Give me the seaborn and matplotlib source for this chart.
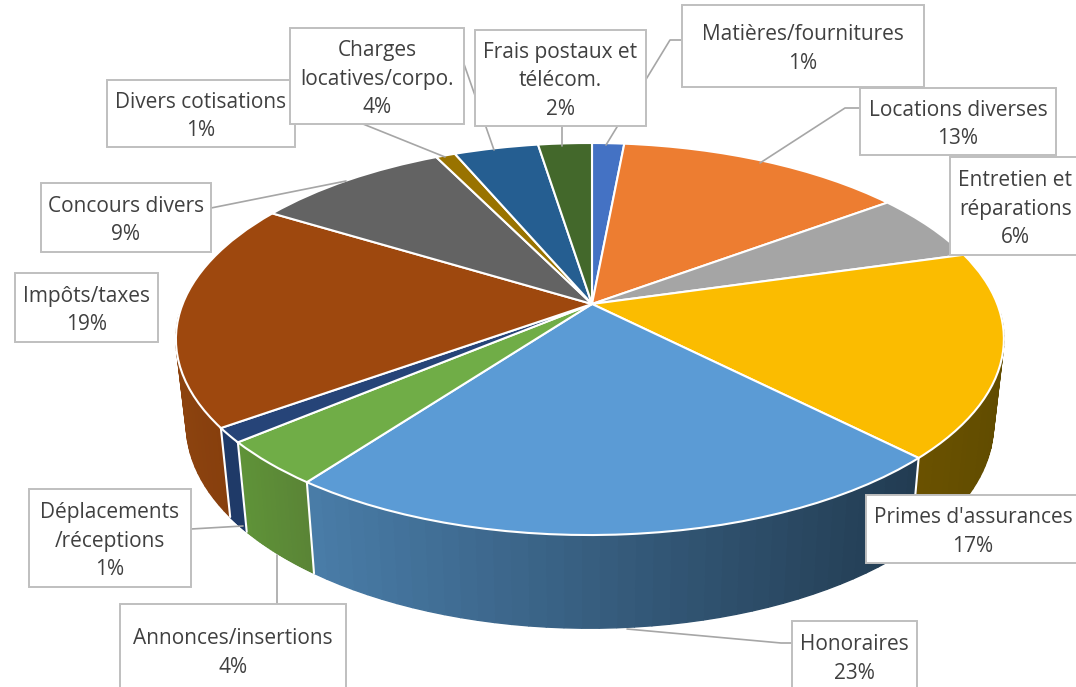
import numpy as np
import pandas as pd
import matplotlib
matplotlib.use("Agg")
import matplotlib.pyplot as plt
import matplotlib.transforms as mtransforms
from matplotlib.colors import to_rgb
from matplotlib.patches import Rectangle
import seaborn as sns

categories = ["Matières/fournitures", "Locations diverses", "Entretien et\nréparations",
              "Primes d'assurances", "Honoraires", "Annonces/insertions",
              "Déplacements\n/réceptions", "Impôts/taxes", "Concours divers",
              "Divers cotisations", "Charges\nlocatives/corpo.", "Frais postaux et\ntélécom."]
values = [1.49, 13.4, 5.7, 17.0, 22.6, 3.7, 1.2, 18.6, 9.0, 0.9, 3.91, 2.49]

top_colors = ["#4472C4", "#ED7D31", "#A5A5A5", "#FBBC00", "#5B9BD5", "#70AD47",
              "#264478", "#9E480E", "#636363", "#997300", "#255E91", "#43682B"]
wall_left = ["#3A62A8", "#C96A2A", "#8C8C8C", "#6B5200", "#4A7DA9", "#5F9338",
             "#1F3A68", "#8C430F", "#555555", "#826200", "#204F7B", "#395825"]
wall_right = ["#3A62A8", "#C96A2A", "#8C8C8C", "#614C00", "#223C52", "#5A8436",
              "#1F3A68", "#873F0D", "#555555", "#826200", "#204F7B", "#395825"]

# boxes: left, top, right, bottom (pixels)
boxes = [(682, 5, 924, 87), (860, 88, 1056, 155), (950, 157, 1081, 255),
         (866, 495, 1080, 563), (792, 621, 917, 691), (120, 604, 346, 696),
         (29, 489, 191, 587), (15, 273, 158, 342), (41, 183, 211, 252),
         (107, 80, 295, 147), (290, 28, 464, 124), (475, 30, 646, 126)]
leaders = [[(682, 40), (670, 40), (606, 145)], [(860, 108), (845, 108), (760, 163)],
           [(792, 643), (781, 643), (627, 629)], [(277, 604), (277, 555)],
           [(191, 529), (243, 526)], [(211, 208), (346, 181)],
           [(363, 124), (445, 157)], [(464, 64), (494, 150)], [(562, 126), (562, 146)]]

# disc geometry in pixels
cx, cy = 592, 304
A, B, k, m = 407.3, 189.75, 0.1786, 0.005
depth, sx, sy = 84, 0.975, 1.04


def project(u, v):
    w = 1 + k * v + m * u
    return cx + A * u / w, cy - B * v / w


class Perspective(mtransforms.Transform):
    input_dims = 2
    output_dims = 2

    def transform_non_affine(self, values):
        x, y = project(values[:, 0], values[:, 1])
        return np.column_stack([x, y])


def lower(x, y):
    return cx + (x - cx) * sx, cy + (y - cy) * sy + depth


sns.set_theme(style="white")
plt.rcParams["font.family"] = ["Open Sans", "DejaVu Sans"]

df = pd.DataFrame({"category": categories, "value": values})
df["end"] = df["value"].cumsum() / df["value"].sum() * 2 * np.pi
df["start"] = df["end"].shift(fill_value=0)

fig, ax = plt.subplots(figsize=(10.76, 6.87), dpi=100)
fig.subplots_adjust(0, 0, 1, 1)

# side wall, one thin strip at a time for the shading
for i, row in df.iterrows():
    t = np.linspace(row["start"], row["end"], 40)
    t = t[np.cos(t) < -0.05]  # back part is hidden anyway
    if len(t) < 2:
        continue
    xt, yt = project(np.sin(t), np.cos(t))
    xb, yb = lower(xt, yt)
    c1, c2 = np.array(to_rgb(wall_left[i])), np.array(to_rgb(wall_right[i]))
    span = max(xt.max() - xt.min(), 1)
    for j in range(len(t) - 1):
        f = (xt[j] - xt.min()) / span
        col = c1 + (c2 - c1) * f
        ax.fill([xt[j], xt[j + 1], xb[j + 1], xb[j]], [yt[j], yt[j + 1], yb[j + 1], yb[j]],
                facecolor=col, edgecolor=col, lw=1.0, zorder=1)

for a in df["end"]:
    if np.cos(a) < -0.05:
        xt, yt = project(np.sin(a), np.cos(a))
        xb, yb = lower(xt, yt)
        ax.plot([xt, xb], [yt, yb], color="white", lw=1.5, zorder=1.5)

ax.pie(df["value"], colors=sns.color_palette(top_colors), startangle=90, counterclock=False,
       wedgeprops={"transform": Perspective() + ax.transData, "edgecolor": "white",
                   "linewidth": 1.5, "zorder": 2})

for line in leaders:
    xs, ys = zip(*line)
    ax.plot(xs, ys, color="#A6A6A6", lw=1.2, zorder=3)

for name, val, (x0, y0, x1, y1) in zip(categories, values, boxes):
    ax.add_patch(Rectangle((x0, y0), x1 - x0, y1 - y0, fc="white", ec="#BFBFBF", lw=1.4, zorder=4))
    ax.text((x0 + x1) / 2, (y0 + y1) / 2 + 3, f"{name}\n{val:.0f}%", ha="center", va="center",
            fontsize=15, color="#404040", linespacing=1.45, zorder=5)

ax.set_xlim(0, 1076)
ax.set_ylim(687, 0)
ax.set_aspect("auto")
ax.axis("off")

fig.savefig("out.png", dpi=100)
